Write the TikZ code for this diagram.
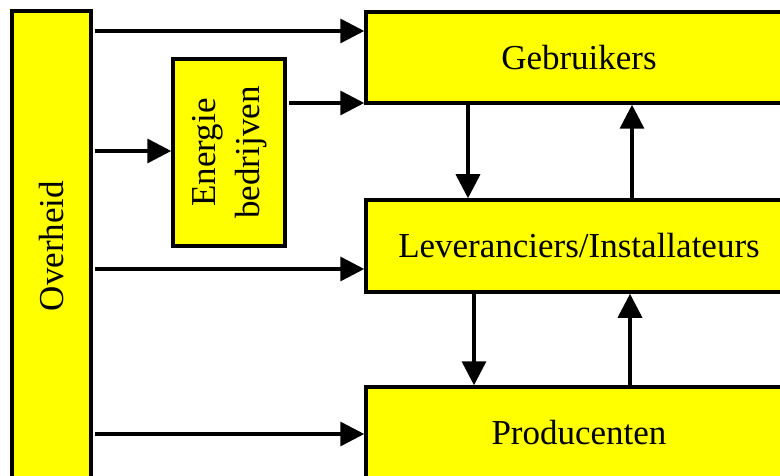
\documentclass[tikz,border=0pt]{standalone}
\usepackage{fontspec}
\setmainfont{Liberation Serif}
\usepackage{graphicx}
\usetikzlibrary{arrows.meta}
\definecolor{boxyellow}{RGB}{255,255,0}
\begin{document}
\begin{tikzpicture}[x=1pt,y=-1pt,
  box/.style={draw=black,fill=boxyellow,line width=3.5pt,inner sep=0pt,
    font=\fontsize{35}{42}\selectfont},
  arr/.style={line width=3.5pt,-{Triangle[length=24pt,width=24pt]}}]
\useasboundingbox (0,0) rectangle (780,476);
\node[box,minimum width=79pt,minimum height=470pt] (ov) at (51.5,246) {\rotatebox{90}{Overheid}};
\node[box,minimum width=112pt,minimum height=187pt] (en) at (229,152.5)
  {\rotatebox{90}{\begin{tabular}{@{}c@{}}Energie\\[2pt]bedrijven\end{tabular}}};
\node[box,minimum width=426pt,minimum height=91pt] (geb) at (579,57.5) {Gebruikers};
\node[box,minimum width=426pt,minimum height=92pt] (lev) at (579,246) {Leveranciers/Installateurs};
\node[box,minimum width=426pt,minimum height=92pt] (pro) at (579,433) {Producenten};
% from Overheid
\draw[arr,shorten <=2pt] (ov.east |- 0,31) -- (geb.west |- 0,31);
\draw[arr,shorten <=2pt] (ov.east |- 0,151) -- (en.west |- 0,151);
\draw[arr,shorten <=2pt] (ov.east |- 0,269) -- (lev.west |- 0,269);
\draw[arr,shorten <=2pt] (ov.east |- 0,434) -- (pro.west |- 0,434);
% Energie to Gebruikers
\draw[arr,shorten <=2pt] (en.east |- 0,103) -- (geb.west |- 0,103);
% vertical
\draw[arr] (geb.south -| 468,0) -- (lev.north -| 468,0);
\draw[arr] (lev.north -| 632,0) -- (geb.south -| 632,0);
\draw[arr] (lev.south -| 474,0) -- (pro.north -| 474,0);
\draw[arr] (pro.north -| 630,0) -- (lev.south -| 630,0);
\end{tikzpicture}
\end{document}
